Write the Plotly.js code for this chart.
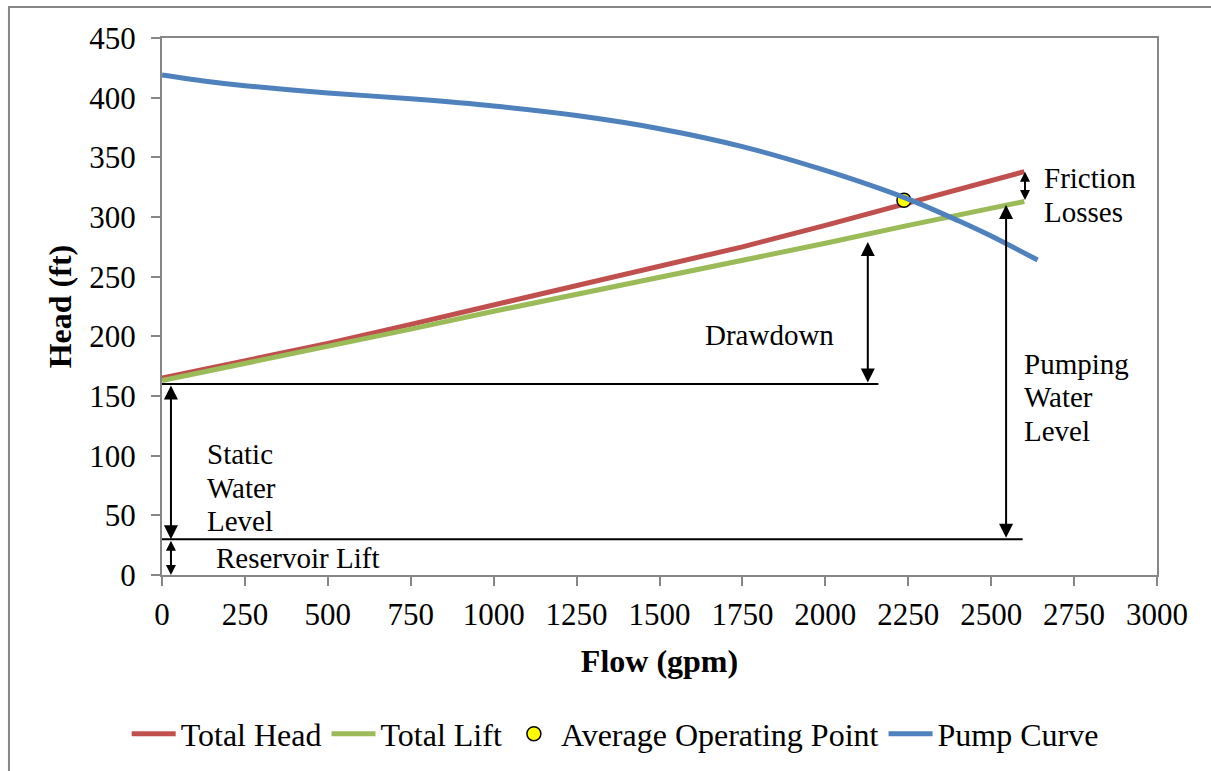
<!DOCTYPE html>
<html>
<head>
<meta charset="utf-8">
<script src="https://cdn.plot.ly/plotly-3.0.1.min.js"></script>
<style>html,body{margin:0;padding:0;background:#fff;}#chart{width:1211px;height:771px;}</style>
</head>
<body>
<div id="chart"></div>
<script>
// ---- data ----
const headFlow   = [0, 250, 500, 750, 1000, 1250, 1500, 1750, 2000, 2250, 2500, 2600];
const totalHead  = [165, 179, 194, 210, 226, 242, 258, 275, 293, 312, 331, 338];
const totalLift  = [163, 177, 192, 206, 221, 235, 250, 264, 278, 293, 307, 313];
const pumpFlow   = [0, 125, 250, 500, 750, 1000, 1250, 1500, 1750, 2000, 2250, 2400, 2500, 2640];
const pumpHead   = [419, 414, 410, 404, 399, 393, 385, 374, 359, 339, 315, 297, 284, 264];
const opFlow     = [2237];
const opHead     = [314];
const xTicks     = [0, 250, 500, 750, 1000, 1250, 1500, 1750, 2000, 2250, 2500, 2750, 3000];
const yTicks     = [0, 50, 100, 150, 200, 250, 300, 350, 400, 450];

// reference levels (ft) and the x spans they are drawn over (gpm)
const staticLevel = 160, staticLineEnd = 2160;
const reservoirLevel = 30, reservoirLineEnd = 2595;
// vertical dimension arrows: [x, yFrom, yTo, headScale]
const dimArrows = [
  [27, 160, 30, 1.4],     // static water level
  [27, 30, 0, 1.0],       // reservoir lift
  [2128, 160, 279, 1.4],  // drawdown
  [2545, 30, 310, 1.4],   // pumping water level
  [2602, 313, 338, 1.0]   // friction losses
];
// text labels: [text, x, y, anchor]
const labels = [
  ['Friction', 2653, 333, 'left'],
  ['Losses', 2653, 304, 'left'],
  ['Drawdown', 1832, 201, 'center'],
  ['Pumping', 2593, 177, 'left'],
  ['Water', 2593, 149, 'left'],
  ['Level', 2593, 121, 'left'],
  ['Static', 130, 101, 'left'],
  ['Water', 130, 73, 'left'],
  ['Level', 130, 45, 'left'],
  ['Reservoir Lift', 157, 14, 'left']
];

const FONT = 'Liberation Serif';
const GRAY = '#868686';

const traces = [
  {x: headFlow, y: totalHead, name: 'Total Head', mode: 'lines', line: {color: '#C0504D', width: 5}},
  {x: headFlow, y: totalLift, name: 'Total Lift', mode: 'lines', line: {color: '#9BBB59', width: 5}},
  {x: opFlow, y: opHead, name: 'Average Operating Point', mode: 'markers',
   marker: {color: '#FFFF00', size: 14, line: {color: '#000', width: 1.5}}},
  {x: pumpFlow, y: pumpHead, name: 'Pump Curve', mode: 'lines', line: {color: '#4F81BD', width: 5, shape: 'spline', smoothing: 0.8}}
];

const shapes = [
  {type: 'line', xref: 'x', yref: 'y', x0: 0, x1: staticLineEnd, y0: staticLevel, y1: staticLevel, line: {color: '#000', width: 2}},
  {type: 'line', xref: 'x', yref: 'y', x0: 0, x1: reservoirLineEnd, y0: reservoirLevel, y1: reservoirLevel, line: {color: '#000', width: 2}},
  // outer chart border (top and left visible)
  {type: 'rect', xref: 'paper', yref: 'paper', x0: -0.1538, x1: 1.2, y0: -0.5, y1: 1.0577, line: {color: GRAY, width: 2}, layer: 'below'}
];

const annotations = [];
dimArrows.forEach(a => {
  annotations.push({
    x: a[0], y: a[2], ax: a[0], ay: a[1], xref: 'x', yref: 'y', axref: 'x', ayref: 'y',
    text: '', showarrow: true, arrowhead: 2, startarrowhead: 2, arrowside: 'end+start',
    arrowsize: a[3], startarrowsize: a[3], arrowwidth: 2, arrowcolor: '#000'
  });
});
labels.forEach(l => {
  annotations.push({
    x: l[1], y: l[2], xref: 'x', yref: 'y', text: l[0], showarrow: false,
    xanchor: l[3], yanchor: 'middle', font: {family: FONT, size: 29, color: '#000'}
  });
});

const layout = {
  width: 1211, height: 771,
  margin: {l: 162, r: 54, t: 38, b: 196},
  paper_bgcolor: '#fff', plot_bgcolor: '#fff',
  font: {family: FONT, size: 31, color: '#000'},
  showlegend: true,
  legend: {orientation: 'h', xref: 'container', yref: 'container', x: 0.508, xanchor: 'center', y: 0.048, yanchor: 'middle',
           font: {family: FONT, size: 32, color: '#000'}, itemwidth: 44, traceorder: 'normal'},
  xaxis: {
    range: [0, 3000], tickvals: xTicks, ticktext: xTicks.map(String),
    showgrid: false, zeroline: false, showline: true, linecolor: GRAY, linewidth: 2, mirror: true,
    ticks: 'outside', ticklen: 9, tickcolor: GRAY, tickwidth: 2,
    tickfont: {family: FONT, size: 31}, ticklabelstandoff: 2,
    title: {text: '<b>Flow (gpm)</b>', font: {family: FONT, size: 32}, standoff: 18}
  },
  yaxis: {
    range: [0, 450], tickvals: yTicks, ticktext: yTicks.map(String),
    showgrid: false, zeroline: false, showline: true, linecolor: GRAY, linewidth: 2, mirror: true,
    ticks: 'outside', ticklen: 9, tickcolor: GRAY, tickwidth: 2,
    tickfont: {family: FONT, size: 31}, ticklabelstandoff: 9,
    title: {text: '<b>Head (ft)</b>', font: {family: FONT, size: 32}, standoff: 8}
  },
  shapes: shapes,
  annotations: annotations
};

Plotly.newPlot('chart', traces, layout, {displayModeBar: false, staticPlot: true});
</script>
</body>
</html>
